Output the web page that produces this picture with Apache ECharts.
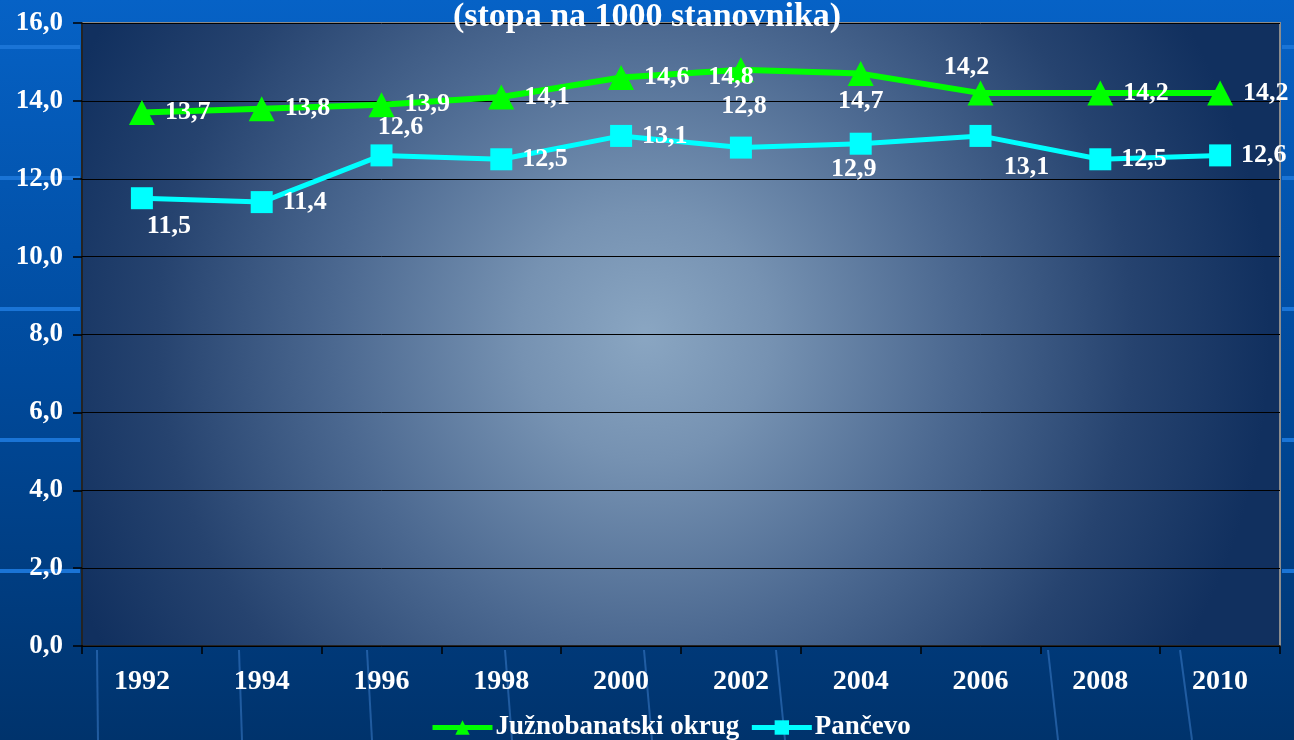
<!DOCTYPE html>
<html>
<head>
<meta charset="utf-8">
<script src="https://cdn.jsdelivr.net/npm/echarts@6/dist/echarts.min.js"></script>
<style>
  html, body { margin: 0; padding: 0; }
  #chart { width: 1294px; height: 740px; }
</style>
</head>
<body>
<div id="chart"></div>
<script>
(function() {
  var serif = "'Liberation Serif', 'Times New Roman', serif";

  // --- data ---
  var years = ['1992', '1994', '1996', '1998', '2000', '2002', '2004', '2006', '2008', '2010'];
  var juzno = [13.7, 13.8, 13.9, 14.1, 14.6, 14.8, 14.7, 14.2, 14.2, 14.2];
  var pancevo = [11.5, 11.4, 12.6, 12.5, 13.1, 12.8, 12.9, 13.1, 12.5, 12.6];
  var yTicks = [0, 2, 4, 6, 8, 10, 12, 14, 16];

  // label placement per point (styling only)
  var juznoLabel = [
    { position: 'right', distance: 10 },
    { position: 'right', distance: 10 },
    { position: 'right', distance: 10 },
    { position: 'right', distance: 10 },
    { position: 'right', distance: 10 },
    { position: 'inside', offset: [-10, 8] },
    { position: 'bottom', distance: 2 },
    { position: 'top', distance: 0, offset: [-14, 0] },
    { position: 'right', distance: 10 },
    { position: 'right', distance: 10 }
  ];
  var pancevoLabel = [
    { position: 'bottom', distance: 4, offset: [27, 0] },
    { position: 'right', distance: 10 },
    { position: 'top', distance: 4, offset: [19, 0] },
    { position: 'right', distance: 10 },
    { position: 'right', distance: 10 },
    { position: 'top', distance: 17, offset: [3, 0] },
    { position: 'bottom', distance: 2, offset: [-7, 0] },
    { position: 'bottom', distance: 7, offset: [46, 0] },
    { position: 'right', distance: 10 },
    { position: 'right', distance: 10 }
  ];

  function comma(v) { return Number(v).toFixed(1).replace('.', ','); }

  function withLabels(values, labels) {
    return values.map(function(v, i) { return { value: v, label: labels[i] }; });
  }

  var labelStyle = {
    show: true,
    color: '#ffffff',
    fontFamily: serif,
    fontWeight: 'bold',
    fontSize: 26,
    formatter: function(p) { return comma(p.value); }
  };

  // decorative background stripes
  var deco = [];
  [47, 178, 309, 440, 571].forEach(function(y) {
    deco.push({ type: 'rect', z: -10, shape: { x: 0, y: y - 2, width: 80, height: 4 }, style: { fill: '#1a74d6' } });
    deco.push({ type: 'rect', z: -10, shape: { x: 1282, y: y - 2, width: 12, height: 4 }, style: { fill: '#1a74d6' } });
  });
  [[97, 92], [239, 236], [367, 366], [505, 506], [644, 646], [776, 779], [1048, 1052], [1180, 1186]].forEach(function(p) {
    deco.push({ type: 'line', z: -10, shape: { x1: p[0], y1: 650, x2: p[1] + 6, y2: 740 }, style: { stroke: 'rgba(70,140,220,0.45)', lineWidth: 2 } });
  });

  var chart = echarts.init(document.getElementById('chart'), null, { renderer: 'canvas' });
  chart.setOption({
    animation: false,
    backgroundColor: {
      type: 'linear', x: 0, y: 0, x2: 0, y2: 1,
      colorStops: [
        { offset: 0, color: '#0662c6' },
        { offset: 0.5, color: '#004a9c' },
        { offset: 1, color: '#00336c' }
      ]
    },
    graphic: deco,
    title: {
      text: '(stopa na 1000 stanovnika)',
      left: 'center',
      top: -5,
      textStyle: { color: '#ffffff', fontFamily: serif, fontWeight: 'bold', fontSize: 34 }
    },
    legend: {
      top: 709,
      left: 425,
      itemWidth: 60,
      itemHeight: 18,
      itemGap: 10,
      lineStyle: { width: 5 },
      textStyle: { color: '#ffffff', fontFamily: serif, fontWeight: 'bold', fontSize: 27, padding: [0, 0, 0, -2] },
      data: ['Južnobanatski okrug', 'Pančevo']
    },
    grid: {
      left: 82, right: 14, top: 23, bottom: 94,
      show: true,
      borderColor: '#8c8c8c',
      borderWidth: 2,
      backgroundColor: {
        type: 'radial', x: 0.47, y: 0.5, r: 1.0,
        colorStops: [
          { offset: 0, color: '#8aa6c2' },
          { offset: 0.2, color: '#7692b2' },
          { offset: 0.5, color: '#4b6890' },
          { offset: 0.78, color: '#26436f' },
          { offset: 1, color: '#11305f' }
        ]
      }
    },
    xAxis: {
      type: 'category',
      data: years,
      boundaryGap: true,
      axisLine: { lineStyle: { color: '#000000', width: 1.5 } },
      axisTick: { show: true, length: 8, lineStyle: { color: '#000000', width: 1.5 } },
      axisLabel: { color: '#ffffff', fontFamily: serif, fontWeight: 'bold', fontSize: 28, margin: 22 },
      splitLine: { show: false }
    },
    yAxis: {
      type: 'value',
      min: yTicks[0],
      max: yTicks[yTicks.length - 1],
      interval: yTicks[1] - yTicks[0],
      axisLine: { show: true, lineStyle: { color: '#000000', width: 1.5 } },
      axisTick: { show: true, length: 9, lineStyle: { color: '#000000', width: 1.5 } },
      axisLabel: { color: '#ffffff', fontFamily: serif, fontWeight: 'bold', fontSize: 27, margin: 19, formatter: comma },
      splitLine: { lineStyle: { color: '#000000', width: 1 } }
    },
    series: [
      {
        name: 'Južnobanatski okrug',
        type: 'line',
        data: withLabels(juzno, juznoLabel),
        symbol: 'triangle',
        symbolSize: [26, 25],
        lineStyle: { color: '#00ff00', width: 6 },
        itemStyle: { color: '#00ff00' },
        label: labelStyle,
        z: 3
      },
      {
        name: 'Pančevo',
        type: 'line',
        data: withLabels(pancevo, pancevoLabel),
        symbol: 'rect',
        symbolSize: 22,
        lineStyle: { color: '#00ffff', width: 5 },
        itemStyle: { color: '#00ffff' },
        label: labelStyle,
        z: 3
      }
    ]
  });
  window.addEventListener('resize', function() { chart.resize(); });
})();
</script>
</body>
</html>
